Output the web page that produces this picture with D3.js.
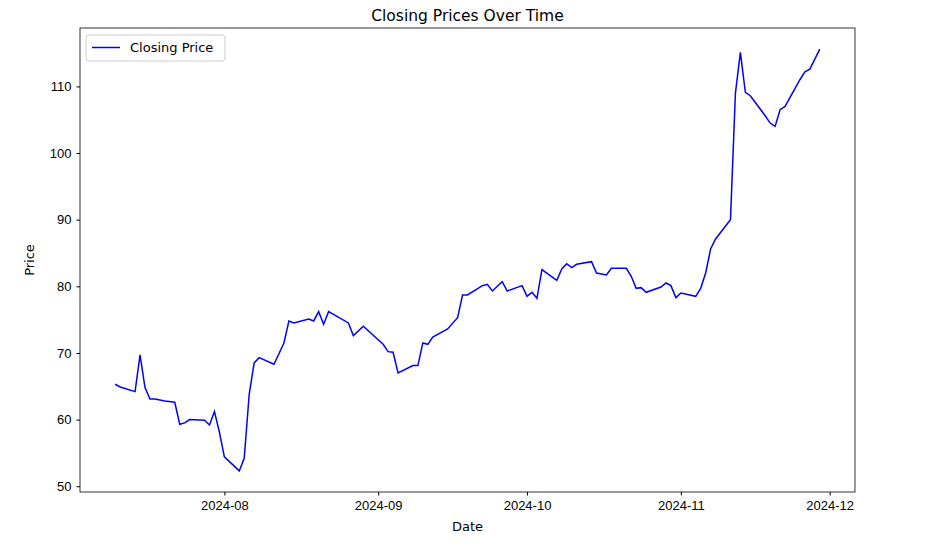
<!DOCTYPE html>
<html><head><meta charset="utf-8">
<script src="https://cdn.jsdelivr.net/npm/d3@7"></script>
<style>body{margin:0;background:#fff;font-family:"DejaVu Sans",sans-serif;}</style>
</head><body><svg id="c" width="931" height="552"></svg>
<script>
const startDate = "2024-07-10";
const dayOffsets = [0,1,4,5,6,7,8,10,12,13,14,15,18,19,20,21,22,25,26,27,28,29,32,34,35,36,39,40,41,42,43,47,48,50,54,55,56,57,60,61,62,63,64,67,69,70,71,74,75,76,78,79,82,83,84,85,86,89,90,91,92,93,96,97,99,100,103,104,105,106,107,110,111,112,113,114,117,118,119,120,121,124,125,126,127,128,131,132,133,134,135,138,139,140,142];
const prices = [65.3,64.9,64.2,69.7,64.8,63.1,63.1,62.8,62.6,59.3,59.5,60.0,59.9,59.2,61.2,58.1,54.4,52.3,54.2,63.8,68.5,69.3,68.3,71.5,74.8,74.5,75.1,74.8,76.2,74.3,76.2,74.5,72.6,74.0,71.3,70.2,70.1,67.0,68.1,68.1,71.5,71.3,72.4,73.6,75.3,78.7,78.7,80.1,80.3,79.3,80.7,79.3,80.1,78.5,79.1,78.2,82.5,80.9,82.6,83.4,82.8,83.3,83.7,82.0,81.7,82.7,82.7,81.5,79.7,79.8,79.1,79.9,80.5,80.1,78.3,79.0,78.5,79.7,82.0,85.6,87.1,90.0,109.0,115.1,109.1,108.6,105.6,104.5,104.0,106.5,107.0,111.0,112.2,112.6,115.6];
const xTicks = ["2024-08-01","2024-09-01","2024-10-01","2024-11-01","2024-12-01"];
const yTicks = [50,60,70,80,90,100,110];

const parse = d3.utcParse("%Y-%m-%d");
const s0 = parse(startDate);
const data = dayOffsets.map((o,i)=>({d:d3.utcDay.offset(s0,o), v:prices[i]}));
const L=80,R=855,T=28,B=492;
const svg=d3.select("#c");
const [d0,d1]=d3.extent(data,d=>d.d), span=d1-d0;
const x=d3.scaleUtc().domain([new Date(+d0-span*0.05),new Date(+d1+span*0.05)]).range([L,R]);
const [v0,v1]=d3.extent(prices), vs=v1-v0;
const y=d3.scaleLinear().domain([v0-vs*0.05,v1+vs*0.05]).range([B,T]);
const fmt=d3.utcFormat("%Y-%m");
svg.append("g").attr("transform",`translate(0,${B})`)
  .call(d3.axisBottom(x).tickValues(xTicks.map(parse)).tickFormat(fmt).tickSizeOuter(0).tickSize(3.5).tickPadding(5))
  .call(g=>g.selectAll("text").attr("font-size",10*4/3*0.75+"px").style("font-size","13px").attr("fill","#000"));
svg.append("g").attr("transform",`translate(${L},0)`)
  .call(d3.axisLeft(y).tickValues(yTicks).tickSizeOuter(0).tickSize(3.5).tickPadding(5))
  .call(g=>g.selectAll("text").style("font-size","13px").attr("fill","#000"));
svg.selectAll(".domain").remove();
svg.append("rect").attr("x",L).attr("y",T).attr("width",R-L).attr("height",B-T).attr("fill","none").attr("stroke","#000").attr("stroke-width",0.8);
svg.append("path").datum(data).attr("fill","none").attr("stroke","blue").attr("stroke-width",1.5)
  .attr("d",d3.line().x(d=>x(d.d)).y(d=>y(d.v)));
svg.append("text").attr("x",(L+R)/2).attr("y",T-7).attr("text-anchor","middle").style("font-size","15.5px").text("Closing Prices Over Time");
svg.append("text").attr("x",(L+R)/2).attr("y",531).attr("text-anchor","middle").style("font-size","13px").text("Date");
svg.append("text").attr("transform",`translate(34,${(T+B)/2}) rotate(-90)`).attr("text-anchor","middle").style("font-size","13px").text("Price");
const lg=svg.append("g");
lg.append("rect").attr("x",86).attr("y",35).attr("width",139).attr("height",26).attr("rx",3).attr("fill","#fff").attr("stroke","#ccc");
lg.append("line").attr("x1",92).attr("x2",120).attr("y1",47.5).attr("y2",47.5).attr("stroke","blue").attr("stroke-width",1.5);
lg.append("text").attr("x",130).attr("y",52).style("font-size","13px").text("Closing Price");
</script></body></html>
